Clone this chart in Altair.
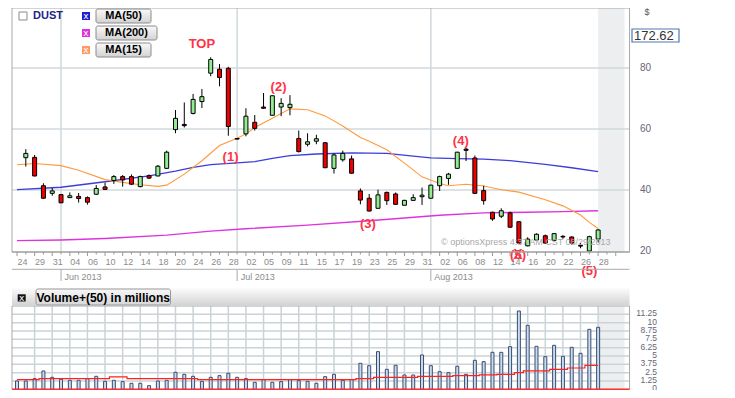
import altair as alt
import pandas as pd

# ---------------- data ----------------
trade_days = [
    "2013-05-24", "2013-05-28", "2013-05-29", "2013-05-30", "2013-05-31",
    "2013-06-03", "2013-06-04", "2013-06-05", "2013-06-06", "2013-06-07",
    "2013-06-10", "2013-06-11", "2013-06-12", "2013-06-13", "2013-06-14",
    "2013-06-17", "2013-06-18", "2013-06-19", "2013-06-20", "2013-06-21",
    "2013-06-24", "2013-06-25", "2013-06-26", "2013-06-27", "2013-06-28",
    "2013-07-01", "2013-07-02", "2013-07-03", "2013-07-05", "2013-07-08",
    "2013-07-09", "2013-07-10", "2013-07-11", "2013-07-12", "2013-07-15",
    "2013-07-16", "2013-07-17", "2013-07-18", "2013-07-19", "2013-07-22",
    "2013-07-23", "2013-07-24", "2013-07-25", "2013-07-26", "2013-07-29",
    "2013-07-30", "2013-07-31", "2013-08-01", "2013-08-02", "2013-08-05",
    "2013-08-06", "2013-08-07", "2013-08-08", "2013-08-09", "2013-08-12",
    "2013-08-13", "2013-08-14", "2013-08-15", "2013-08-16", "2013-08-19",
    "2013-08-20", "2013-08-21", "2013-08-22", "2013-08-23", "2013-08-26",
    "2013-08-27", "2013-08-28",
]

# OHLC from 2013-05-28 (index 1) to 2013-08-28 (index 66)
open_ = [50.6, 50.7, 41.4, 38.9, 38.5, 37.5, 37.9, 37.5, 38.6, 41.0,
         43.1, 44.4, 44.4, 41.1, 44.7, 44.6, 47.1, 59.8, 61.5, 65.1,
         69.0, 78.3, 79.6, 79.9, 56.9, 58.4, 62.2, 67.2, 64.5, 67.2,
         67.0, 56.9, 55.0, 56.0, 55.5, 47.1, 49.9, 50.2, 39.7, 37.3,
         34.0, 39.2, 38.7, 35.0, 36.6, 37.8, 37.3, 41.4, 43.8, 47.1,
         53.4, 50.5, 39.8, 32.7, 31.4, 32.5, 29.6, 21.7, 23.6, 25.0,
         23.5, 24.8, 24.6, 21.8, 20.0, 23.9]
high = [53.4, 51.5, 42.2, 40.7, 38.6, 39.2, 39.0, 37.9, 41.6, 42.4,
        44.9, 44.9, 45.1, 44.7, 45.1, 48.2, 52.9, 66.2, 68.7, 71.5,
        73.1, 83.5, 81.3, 80.4, 57.0, 66.8, 64.6, 71.8, 71.0, 70.1,
        71.1, 59.5, 58.6, 58.1, 55.6, 52.0, 52.9, 51.3, 40.5, 38.7,
        40.1, 39.5, 39.2, 36.8, 38.6, 40.8, 41.7, 44.7, 45.6, 52.5,
        53.8, 51.3, 41.4, 32.9, 34.0, 32.9, 29.7, 24.5, 25.8, 25.4,
        25.9, 25.2, 24.8, 22.6, 25.0, 27.2]
low = [47.7, 44.5, 37.2, 38.1, 35.7, 37.4, 35.9, 35.2, 38.5, 40.0,
       42.0, 41.1, 41.6, 40.9, 43.6, 44.5, 46.9, 58.6, 60.5, 64.8,
       66.9, 77.3, 74.0, 57.8, 56.6, 57.6, 59.5, 66.6, 64.4, 64.2,
       64.5, 52.3, 54.3, 55.0, 47.2, 45.4, 49.3, 45.4, 35.3, 33.0,
       33.9, 35.1, 35.2, 34.9, 36.4, 35.1, 37.2, 39.7, 41.7, 47.0,
       49.5, 38.8, 35.2, 29.9, 30.8, 27.7, 22.4, 21.5, 23.5, 22.4,
       23.2, 24.0, 22.1, 20.9, 19.9, 22.8]
close = [52.0, 44.6, 37.3, 39.7, 35.8, 38.1, 37.2, 36.0, 40.5, 40.2,
         44.4, 43.3, 41.9, 44.4, 43.9, 47.8, 52.4, 63.5, 61.1, 69.7,
         70.6, 82.8, 76.9, 60.8, 56.7, 64.2, 60.2, 66.8, 70.9, 68.4,
         68.1, 52.6, 55.8, 56.8, 47.3, 51.5, 52.0, 45.5, 36.7, 33.1,
         38.4, 36.5, 35.3, 36.6, 37.5, 38.3, 41.6, 44.4, 45.2, 52.4,
         53.0, 38.9, 36.5, 30.5, 33.2, 27.8, 22.6, 23.9, 25.5, 22.6,
         25.7, 24.6, 22.6, 21.6, 24.7, 26.9]

# moving averages (trading-day index, value)
ma50_idx = [0, 5, 10, 15, 18, 20, 22, 25, 27, 29, 31, 34, 38, 42, 45, 47, 50, 53, 56, 60, 63, 66]
ma50_val = [40.1, 40.9, 42.7, 44.6, 46.2, 47.4, 48.3, 48.9, 49.3, 50.4, 51.3, 51.8, 52.2, 52.0,
            51.1, 50.5, 50.3, 50.1, 49.6, 48.4, 47.3, 46.0]
ma200_idx = [0, 5, 10, 17, 22, 26, 33, 40, 48, 53, 58, 62, 66]
ma200_val = [23.4, 23.6, 24.1, 25.2, 26.5, 27.3, 28.5, 29.9, 31.7, 32.5, 32.7, 32.9, 33.2]
ma15_idx = [0, 2, 5, 7, 10, 12, 14, 16, 17, 19, 21, 23, 25, 26, 27, 29, 31, 33, 35, 37, 39, 40,
            42, 44, 46, 48, 49, 51, 53, 55, 57, 60, 62, 64, 65, 66]
ma15_val = [48.3, 48.7, 48.0, 46.5, 43.4, 42.5, 41.7, 41.2, 41.6, 45.2, 49.6, 54.6, 57.0, 58.4,
            60.5, 63.5, 66.6, 66.3, 64.3, 61.0, 57.2, 56.0, 53.2, 48.8, 44.3, 42.1, 41.4, 41.9,
            41.3, 40.1, 39.3, 36.8, 34.8, 31.8, 29.4, 27.4]

# volume in millions (index 0..66) and its 50-day average
volume = [1.25, 1.25, 1.6, 2.75, 1.8, 1.5, 1.35, 1.35, 1.6, 1.95,
          1.2, 1.35, 1.15, 0.9, 0.9, 0.55, 1.25, 1.35, 2.55, 2.25,
          1.95, 1.2, 1.8, 2.05, 2.4, 1.8, 1.6, 1.05, 1.45, 1.05,
          1.15, 1.45, 1.3, 1.2, 0.9, 1.9, 2.25, 1.35, 1.45, 3.9,
          3.55, 5.65, 3.0, 3.6, 2.15, 2.15, 5.15, 3.55, 2.65, 2.5,
          3.45, 2.25, 4.35, 4.15, 5.55, 5.55, 6.4, 11.75, 9.6, 6.45,
          4.9, 6.6, 4.95, 6.3, 5.4, 9.0, 9.3]
vol_ma = [1.45, 1.45, 1.45, 1.6, 1.6, 1.6, 1.6, 1.6, 1.6, 1.6,
          1.6, 1.85, 1.85, 1.6, 1.6, 1.6, 1.6, 1.6, 1.6, 1.6,
          1.6, 1.45, 1.45, 1.45, 1.45, 1.45, 1.45, 1.45, 1.45, 1.45,
          1.45, 1.45, 1.45, 1.45, 1.45, 1.45, 1.45, 1.45, 1.45, 1.6,
          1.6, 1.8, 1.8, 1.8, 1.8, 1.8, 1.95, 1.95, 1.95, 1.95,
          2.05, 2.05, 2.05, 2.15, 2.15, 2.25, 2.25, 2.5, 2.75, 2.75,
          2.75, 3.0, 3.0, 3.2, 3.2, 3.6, 3.6]

price_ticks = [20, 40, 60, 80]
vol_ticks = [0, 1.25, 2.5, 3.75, 5, 6.25, 7.5, 8.75, 10, 11.25]
vol_tick_labels = ["0", "1.25", "2.5", "3.75", "5", "6.25", "7.5", "8.75", "10", "11.25"]

ann_text = ["TOP", "(1)", "(2)", "(3)", "(4)", "(5)", "(5)"]
ann_idx = [21.0, 24.25, 29.7, 39.85, 50.4, 56.9, 65.0]
ann_price = [87.8, 50.75, 73.8, 28.75, 56.1, 18.75, 13.4]

# ---------------- tables ----------------
n = len(trade_days)
x_end = n - 1 + 3
dates = pd.to_datetime(pd.Series(trade_days))

cdf = pd.DataFrame({"idx": range(1, n), "open": open_, "high": high, "low": low, "close": close})
cdf["dir"] = ["up" if c >= o else "down" for o, c in zip(open_, close)]
vdf = pd.DataFrame({"idx": range(n), "vol": volume, "ma": vol_ma, "base": 0.0})
m50 = pd.DataFrame({"idx": ma50_idx, "v": ma50_val})
m200 = pd.DataFrame({"idx": ma200_idx, "v": ma200_val})
m15 = pd.DataFrame({"idx": ma15_idx, "v": ma15_val})
ann = pd.DataFrame({"idx": ann_idx, "p": ann_price, "t": ann_text})
cross = ann[(ann.t == "(5)")].head(1)

tick_df = pd.DataFrame({"idx": range(0, x_end)})
tick_df["major"] = tick_df["idx"] % 2 == 0
lab_df = pd.DataFrame({"idx": list(range(0, n, 2))})
lab_df["t"] = [dates[i].strftime("%d") for i in lab_df["idx"]]
month_start = [i for i in range(1, n) if dates[i].month != dates[i - 1].month]
mon_df = pd.DataFrame({"idx": month_start, "t": [dates[i].strftime("%b %Y") for i in month_start]})
shade_df = pd.DataFrame({"a": [n - 1], "b": [x_end]})
pgrid = pd.DataFrame({"p": price_ticks[1:]})
plab = pd.DataFrame({"p": price_ticks, "t": [str(v) for v in price_ticks]})
vgrid = pd.DataFrame({"v": vol_ticks[1:]})
vlab = pd.DataFrame({"v": vol_ticks, "t": vol_tick_labels})
vvert = pd.DataFrame({"idx": list(range(2, n, 2))})
zero_df = pd.DataFrame({"v": [0.0]})
one = pd.DataFrame({"a": [0]})

# ---------------- scales ----------------
X0 = 4.0
STEP = 8.95
xsc = alt.Scale(domain=[0, x_end], range=[X0, X0 + STEP * x_end], nice=False, zero=False)
psc = alt.Scale(domain=[20, 100], range=[243, -1], nice=False, zero=False)
vsc = alt.Scale(domain=[0, 12.5], range=[381.3, 298], nice=False, zero=False)
XR = X0 + STEP * x_end

FONT = "Liberation Sans"
GRID = "#d0d8dc"


def X(f):
    return alt.X(f, type="quantitative", scale=xsc, axis=None)


def YP(f):
    return alt.Y(f, type="quantitative", scale=psc, axis=None)


def YV(f):
    return alt.Y(f, type="quantitative", scale=vsc, axis=None)


def box(x0, y0, x1, y1, **kw):
    return alt.Chart(one).mark_rect(**kw).encode(
        x=alt.value(x0), x2=alt.value(x1), y=alt.value(y0), y2=alt.value(y1))


def txt(x, y, t, **kw):
    kw.setdefault("font", FONT)
    return alt.Chart(one).mark_text(text=t, **kw).encode(x=alt.value(x), y=alt.value(y))


def hline(x0, x1, y, color, w=1.0):
    return alt.Chart(one).mark_rule(color=color, strokeWidth=w).encode(
        x=alt.value(x0), x2=alt.value(x1), y=alt.value(y))


def grad(c0, c1):
    return {"gradient": "linear", "x1": 0, "y1": 0, "x2": 0, "y2": 1,
            "stops": [{"offset": 0, "color": c0}, {"offset": 1, "color": c1}]}


layers = []

# ---- price panel background ----
layers.append(alt.Chart(shade_df).mark_rect(color="#eceef0").encode(
    x=X("a"), x2=alt.X2("b"), y=alt.value(0), y2=alt.value(244)))
layers.append(alt.Chart(pgrid).mark_rule(color=GRID, strokeWidth=1.5).encode(
    x=alt.value(X0), x2=alt.value(XR), y=YP("p")))
layers.append(alt.Chart(mon_df).mark_rule(color=GRID, strokeWidth=1.5).encode(
    x=X("idx"), y=alt.value(0), y2=alt.value(244)))

# ---- moving averages ----
layers.append(alt.Chart(m200).mark_line(color="#dd33dd", strokeWidth=1.4).encode(x=X("idx"), y=YP("v")))
layers.append(alt.Chart(m50).mark_line(color="#3d3ddb", strokeWidth=1.3).encode(x=X("idx"), y=YP("v")))
layers.append(alt.Chart(m15).mark_line(color="#ff9a3c", strokeWidth=1.1).encode(x=X("idx"), y=YP("v")))

# ---- candles ----
layers.append(alt.Chart(cdf).mark_rule(color="black", strokeWidth=1).encode(
    x=X("idx"), y=YP("low"), y2=alt.Y2("high")))
layers.append(alt.Chart(cdf).mark_bar(size=4, stroke="black", strokeWidth=1).encode(
    x=X("idx"), y=YP("open"), y2=alt.Y2("close"),
    color=alt.Color("dir:N", scale=alt.Scale(domain=["up", "down"], range=["#90ee90", "#ee0000"]),
                    legend=None)))

# ---- annotations ----
layers.append(alt.Chart(ann).mark_text(font=FONT, fontWeight="bold", fontSize=13, color="#ff3344").encode(
    x=X("idx"), y=YP("p"), text="t:N"))
layers.append(alt.Chart(cross).mark_text(font=FONT, fontWeight="bold", fontSize=14, color="#ff3344",
                                         text="X").encode(x=X("idx"), y=YP("p")))
layers.append(txt(433, 234.3, "\u00a9 optionsXpress 4:37 AM CST 08/29/2013", fontSize=9,
                  color="#a8a8a8", align="left", baseline="middle"))

# ---- price panel frame ----
layers.append(box(X0, 0, XR, 244, fillOpacity=0, stroke="#a8a8a8", strokeWidth=1))

# ---- date axis ----
layers.append(hline(X0, XR, 244, "#999999", 1))
layers.append(alt.Chart(tick_df[~tick_df.major]).mark_rule(color="#999999").encode(
    x=X("idx"), y=alt.value(244), y2=alt.value(246.5)))
layers.append(alt.Chart(tick_df[tick_df.major]).mark_rule(color="#999999").encode(
    x=X("idx"), y=alt.value(244), y2=alt.value(248)))
layers.append(alt.Chart(lab_df).mark_text(font=FONT, fontSize=9, color="#8c8c8c", align="left",
                                          dx=0.5, baseline="middle").encode(
    x=X("idx"), y=alt.value(254), text="t:N"))
layers.append(hline(X0, XR, 261.3, "#aaaaaa", 1))
layers.append(alt.Chart(mon_df).mark_rule(color="#aaaaaa").encode(
    x=X("idx"), y=alt.value(261.3), y2=alt.value(273)))
layers.append(alt.Chart(mon_df).mark_text(font=FONT, fontSize=9, color="#8c8c8c", align="left",
                                          dx=3.5, baseline="middle").encode(
    x=X("idx"), y=alt.value(268.7), text="t:N"))

# ---- price labels ----
layers.append(alt.Chart(plab).mark_text(font=FONT, fontSize=10, color="#666677", align="right",
                                        baseline="middle").encode(
    x=alt.value(643), y=YP("p"), text="t:N"))

# ---- legend chrome (top left) ----
layers.append(box(11, 4, 19, 12, fill="white", stroke="#8a8a8a", strokeWidth=1))
layers.append(txt(25, 8, "DUST", fontSize=11, fontWeight="bold", color="#22228a", align="left",
                  baseline="middle"))
for (yy, col, lab, wbtn) in [(4, "#1f1fd0", "MA(50)", 55), (21, "#dd33dd", "MA(200)", 61),
                             (38, "#ff9966", "MA(15)", 55)]:
    layers.append(box(74, yy, 82, yy + 8, fill=col))
    layers.append(txt(78, yy + 4.3, "x", fontSize=9, color="white", font="DejaVu Sans",
                      baseline="middle"))
    layers.append(box(88, yy - 3, 88 + wbtn, yy + 11, fill=grad("#fafafa", "#d2d2d2"),
                      stroke="#8c8c8c", strokeWidth=1, cornerRadius=2))
    layers.append(txt(88 + wbtn / 2, yy + 4.3, lab, fontSize=11, fontWeight="bold", color="black",
                      baseline="middle"))

# ---- price box (top right) ----
layers.append(txt(639, 3.5, "$", fontSize=9, color="#555555", baseline="middle"))
layers.append(box(624, 21, 671, 34, fill="white", stroke="#4a78b4", strokeWidth=1.2))
layers.append(txt(626, 28, "172.62", fontSize=13, color="#333333", align="left", baseline="middle"))

# ---- volume header ----
layers.append(box(X0, 280.3, XR, 297, fill=grad("#fbfbfb", "#d4d4d4")))
layers.append(box(9.7, 286.3, 17.7, 293.5, fill="#111111"))
layers.append(txt(13.7, 290.2, "x", fontSize=9, color="white", font="DejaVu Sans", baseline="middle"))
layers.append(box(28, 281, 162.5, 297, fill=grad("#f8f8f8", "#d6d6d6"), stroke="#999999",
                  strokeWidth=1, cornerRadius=2))
layers.append(txt(95.2, 289.5, "Volume+(50) in millions", fontSize=12, fontWeight="bold",
                  color="black", baseline="middle"))

# ---- volume panel ----
layers.append(alt.Chart(shade_df).mark_rect(color="#eceef0").encode(
    x=X("a"), x2=alt.X2("b"), y=alt.value(298), y2=alt.value(381.3)))
layers.append(alt.Chart(vgrid).mark_rule(color="#cad3d8", strokeWidth=1.5).encode(
    x=alt.value(X0), x2=alt.value(XR), y=YV("v")))
layers.append(alt.Chart(vvert).mark_rule(color="#cad3d8", strokeWidth=1.5).encode(
    x=X("idx"), y=alt.value(298), y2=alt.value(381.3)))
layers.append(box(X0, 298, XR, 381.3, fillOpacity=0, stroke="#a8a8a8", strokeWidth=1))
layers.append(alt.Chart(vdf).mark_bar(size=3, fill="#c6dcf0", stroke="#3e4c6e", strokeWidth=1).encode(
    x=X("idx"), y=YV("vol"), y2=alt.Y2("base")))
layers.append(alt.Chart(vdf).mark_line(interpolate="step", color="#ff2020", strokeWidth=1.2).encode(
    x=X("idx"), y=YV("ma")))
layers.append(alt.Chart(zero_df).mark_rule(color="#ff3030", strokeWidth=1.5).encode(
    x=alt.value(X0), x2=alt.value(XR), y=YV("v")))
layers.append(alt.Chart(vlab).mark_text(font=FONT, fontSize=8.5, color="#666677", align="right",
                                        baseline="middle", dy=-1).encode(
    x=alt.value(649), y=YV("v"), text="t:N"))

chart = alt.layer(*layers).resolve_scale(y="independent").properties(
    width=719, height=382, autosize=alt.AutoSizeParams(type="none"), padding=0,
    background="white").configure_view(stroke=None)

chart.save("out.html", embed_options={"renderer": "svg", "actions": False})
